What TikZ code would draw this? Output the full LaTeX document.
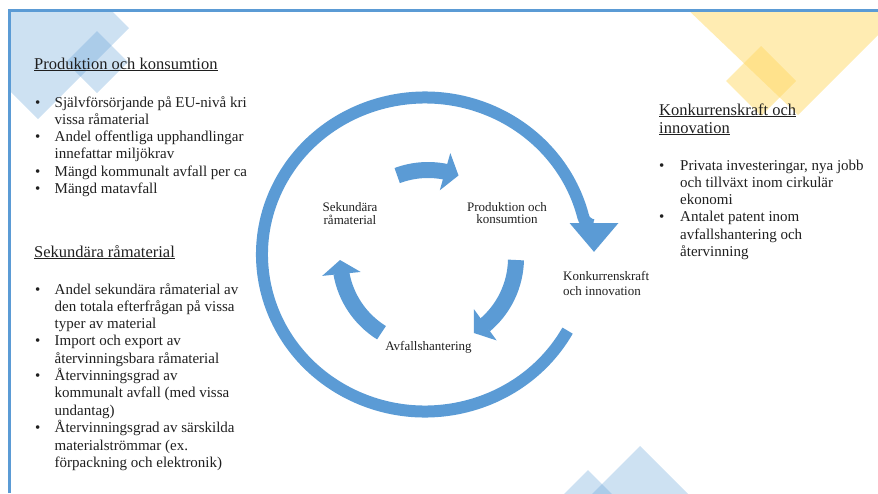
\documentclass[tikz,border=0pt]{standalone}
\usepackage{fontspec}
\setmainfont{Liberation Serif}
\definecolor{ceBlue}{HTML}{5B9BD5}
\definecolor{ceYellow}{HTML}{FFD966}
\definecolor{ceText}{HTML}{1F1F1F}
\usetikzlibrary{arrows.meta, calc, bending}
\newcommand{\listfont}{\fontsize{15}{17.3}\selectfont}
\newcommand{\headfont}{\fontsize{16.5}{18}\selectfont}
\newcommand{\cyclefont}{\fontsize{13}{12.5}\selectfont}

\begin{document}
\begin{tikzpicture}[x=1pt, y=1pt,
  blueshape/.style={fill=ceBlue, fill opacity=0.3},
  yellowshape/.style={fill=ceYellow, fill opacity=0.5},
  frameline/.style={draw=ceBlue, line width=2.4pt},
  ringarrow/.style={draw=ceBlue, line width=12pt, -{Triangle[length=29pt, width=47pt, quick]}},
  cyclearrow/.style={draw=ceBlue, line width=16pt, -{Triangle[length=14pt, width=38pt]}},
  heading/.style={anchor=base west, inner sep=0pt, font=\headfont, text=ceText},
  itemlist/.style={anchor=base west, inner sep=0pt, font=\listfont, text=ceText},
  cyclelabel/.style={anchor=base, inner sep=0pt, font=\cyclefont, text=ceText}]

  \useasboundingbox (0,0) rectangle (878,-493);

  % background diamonds
  \begin{scope}
    \clip (10,-11) rectangle (878,-493);
    \fill[blueshape, shift={(38,-28)}] (-91,0) -- (0,91) -- (91,0) -- (0,-91) -- cycle;
    \fill[blueshape, shift={(97,-62)}] (-31,0) -- (0,31) -- (31,0) -- (0,-31) -- cycle;
    \fill[yellowshape] (683,-5) -- (798,-115) -- (888,-25) -- (888,-5) -- cycle;
    \fill[yellowshape, shift={(761,-81)}] (-35,0) -- (0,35) -- (35,0) -- (0,-35) -- cycle;
    \fill[blueshape, shift={(640,-506)}] (-60,0) -- (0,60) -- (60,0) -- (0,-60) -- cycle;
    \fill[blueshape, shift={(588,-510)}] (-40,0) -- (0,40) -- (40,0) -- (0,-40) -- cycle;
  \end{scope}

  \draw[frameline] (9.5,-493) -- (9.5,-10.5) -- (878,-10.5);

  % outer ring
  \coordinate (ring) at (425,-254.5);
  \coordinate (ringtip) at (594,-252);
  \draw[ringarrow] ($(ring)+(-29:163 and 157)$) arc[start angle=-29, end angle=-346, x radius=163, y radius=157]
    .. controls +(2,-8) and ($(ringtip)+(0,26)$) .. (ringtip);

  % inner cycle
  \coordinate (mid) at (428,-258);
  \draw[cyclearrow] ($(mid)+(110.5:88)$) arc[start angle=110.5, end angle=69.7, radius=88];
  \draw[cyclearrow] ($(mid)+(-1.3:88)$) arc[start angle=-1.3, end angle=-58.5, radius=88];
  \draw[cyclearrow] ($(mid)+(-121.9:88)$) arc[start angle=-121.9, end angle=-178.7, radius=88];

  \node[cyclelabel] (sek) at (350,-211) {\begin{tabular}[t]{@{}c@{}}Sekundära\\råmaterial\end{tabular}};
  \node[cyclelabel] (prod) at (507,-211) {\begin{tabular}[t]{@{}c@{}}Produktion och\\konsumtion\end{tabular}};
  \node[cyclelabel] (avf) at (428.5,-350) {Avfallshantering};
  \node[cyclelabel, anchor=base west] (konk) at (563,-280.7)
    {\fontsize{13}{15}\selectfont\begin{tabular}[t]{@{}l@{}}Konkurrenskraft\\och innovation\end{tabular}};

  % text columns
  \node[heading] (prodhead) at (34,-69) {\underline{Produktion och konsumtion}};
  \node[itemlist] (prodlist) at (35,-107) {\begin{tabular}[t]{@{}p{19.5pt}@{}l@{}}
    • & Självförsörjande på EU-nivå kri\\
      & vissa råmaterial\\
    • & Andel offentliga upphandlingar\\
      & innefattar miljökrav\\
    • & Mängd kommunalt avfall per ca\\
    • & Mängd matavfall
  \end{tabular}};

  \node[heading] (sekhead) at (34,-257) {\underline{Sekundära råmaterial}};
  \node[itemlist] (seklist) at (35,-294) {\begin{tabular}[t]{@{}p{19.5pt}@{}l@{}}
    • & Andel sekundära råmaterial av\\
      & den totala efterfrågan på vissa\\
      & typer av material\\
    • & Import och export av\\
      & återvinningsbara råmaterial\\
    • & Återvinningsgrad av\\
      & kommunalt avfall (med vissa\\
      & undantag)\\
    • & Återvinningsgrad av särskilda\\
      & materialströmmar (ex.\\
      & förpackning och elektronik)
  \end{tabular}};

  \node[heading] (konkhead) at (659,-115) {\begin{tabular}[t]{@{}l@{}}
    \underline{Konkurrenskraft och}\\
    \underline{innovation}
  \end{tabular}};
  \node[itemlist] (konklist) at (659,-170) {\begin{tabular}[t]{@{}p{21pt}@{}l@{}}
    • & Privata investeringar, nya jobb\\
      & och tillväxt inom cirkulär\\
      & ekonomi\\
    • & Antalet patent inom\\
      & avfallshantering och\\
      & återvinning
  \end{tabular}};
\end{tikzpicture}
\end{document}
